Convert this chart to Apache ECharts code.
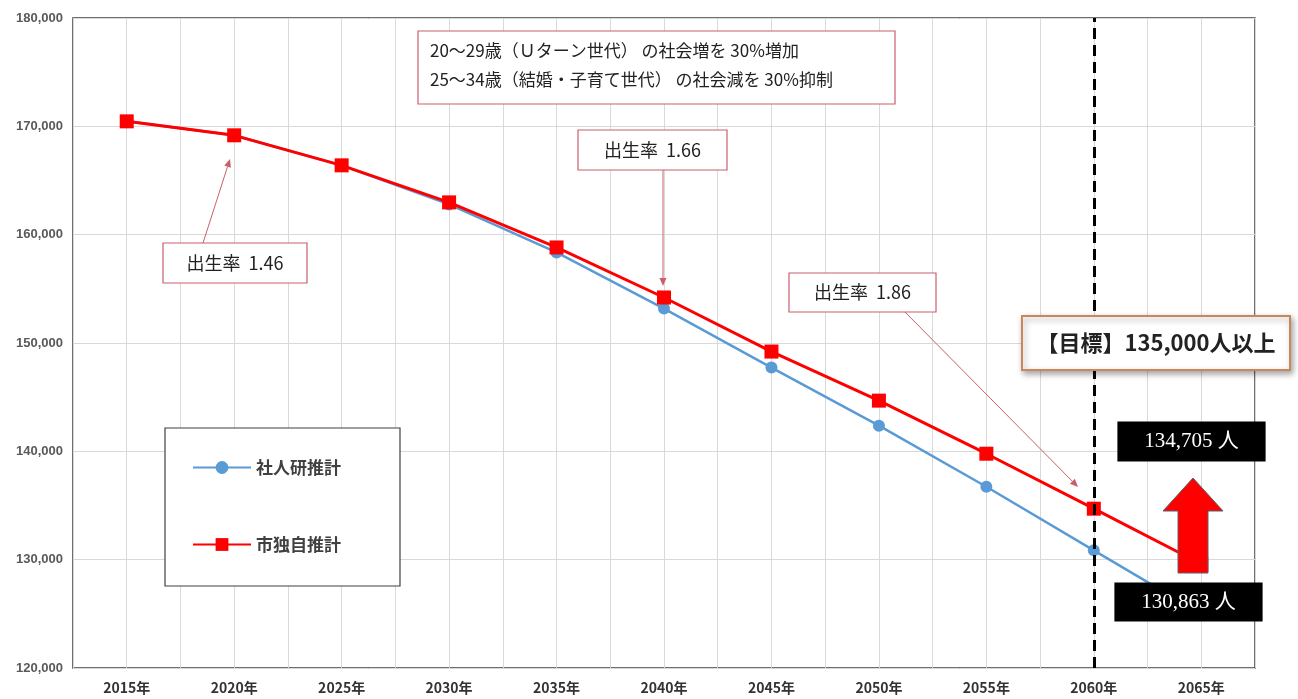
<!DOCTYPE html>
<html>
<head>
<meta charset="utf-8">
<script src="https://cdn.jsdelivr.net/npm/echarts@6/dist/echarts.min.js"></script>
<style>
html,body{margin:0;padding:0;background:#fff;}
#c{width:1298px;height:699px;}
</style>
</head>
<body>
<div id="c"></div>
<script>
const years = ['2015年','2020年','2025年','2030年','2035年','2040年','2045年','2050年','2055年','2060年','2065年'];
const ipssValues = [170460, 169170, 166400, 162790, 158360, 153180, 147730, 142370, 136730, 130863, 125000];
const cityValues = [170460, 169170, 166400, 162980, 158820, 154200, 149210, 144680, 139780, 134705, 129600];
const seriesNames = ['社人研推計', '市独自推計'];
const targetYear = '2060年';
const yMin = 120000, yMax = 180000, yStep = 10000;

const JP = '"Noto Sans CJK JP", "Noto Sans", sans-serif';
const SERIF_NUM = '"Liberation Serif", "Noto Sans CJK JP", serif';

function arrow(x1, y1, x2, y2, color) {
  const ang = Math.atan2(y2 - y1, x2 - x1);
  const L = 8, W = 3.5;
  const bx = x2 - L * Math.cos(ang), by = y2 - L * Math.sin(ang);
  const px = -Math.sin(ang) * W, py = Math.cos(ang) * W;
  return [
    { type: 'line', z: 50, shape: { x1, y1, x2: bx, y2: by }, style: { stroke: color, lineWidth: 1 } },
    { type: 'polygon', z: 50, shape: { points: [[x2, y2], [bx + px, by + py], [bx - px, by - py]] }, style: { fill: color } }
  ];
}
function box(x, y, w, h, stroke, text, font, opts) {
  opts = opts || {};
  return [
    { type: 'rect', z: 50, shape: { x, y, width: w, height: h },
      style: Object.assign({ fill: opts.fill || '#fff', stroke: stroke, lineWidth: opts.lw || 1.2 }, opts.extra || {}) },
    { type: 'text', z: 51, x: x + w / 2, y: y + h / 2,
      style: { text: text, font: font, fill: opts.color || '#222', align: 'center', verticalAlign: 'middle' } }
  ];
}

const chart = echarts.init(document.getElementById('c'));
const annoColor = '#c8606c';

let graphics = [];
// top conditions box
graphics.push({ type: 'rect', z: 50, shape: { x: 418, y: 31, width: 477, height: 73 }, style: { fill: '#fff', stroke: annoColor, lineWidth: 1.2 } });
graphics.push({ type: 'text', z: 51, x: 430, y: 51, style: { text: '20～29歳（Ｕターン世代） の社会増を 30%増加', font: '17px ' + JP, fill: '#222', verticalAlign: 'middle' } });
graphics.push({ type: 'text', z: 51, x: 430, y: 80, style: { text: '25～34歳（結婚・子育て世代） の社会減を 30%抑制', font: '17px ' + JP, fill: '#222', verticalAlign: 'middle' } });
// birth-rate boxes + arrows
graphics = graphics.concat(box(163, 243, 144, 40, annoColor, '出生率  1.46', '18px ' + JP));
graphics = graphics.concat(arrow(203, 243, 230, 159, annoColor));
graphics = graphics.concat(box(578, 130, 149, 40, annoColor, '出生率  1.66', '18px ' + JP));
graphics = graphics.concat(arrow(663, 170, 663, 286, annoColor));
graphics = graphics.concat(box(789, 273, 147, 39, annoColor, '出生率  1.86', '18px ' + JP));
graphics = graphics.concat(arrow(905, 312, 1078, 487, annoColor));
// target box
graphics = graphics.concat(box(1022, 316, 268, 54, '#c8885a', '【目標】135,000人以上', 'bold 22px ' + JP,
  { lw: 2, extra: { shadowBlur: 6, shadowColor: 'rgba(0,0,0,0.35)', shadowOffsetX: 2, shadowOffsetY: 3 } }));
// black value boxes
graphics = graphics.concat(box(1118, 422, 147, 39, '#000', '134,705 人', '21px ' + SERIF_NUM, { fill: '#000', color: '#fff' }));
graphics = graphics.concat(box(1115, 583, 147, 38, '#000', '130,863 人', '21px ' + SERIF_NUM, { fill: '#000', color: '#fff' }));
// red up arrow
graphics.push({ type: 'polygon', z: 52, shape: { points: [[1193, 478], [1223, 511], [1208, 511], [1208, 573], [1178, 573], [1178, 511], [1163, 511]] },
  style: { fill: '#ff0000', stroke: '#5a6070', lineWidth: 1 } });

chart.setOption({
  animation: false,
  backgroundColor: '#fff',
  grid: { left: 73, right: 43, top: 18, bottom: 31, show: true, borderColor: '#404040', borderWidth: 1.5, containLabel: false },
  legend: {
    data: seriesNames,
    orient: 'vertical',
    left: 165, top: 428,
    padding: [31, 59, 33, 27],
    itemWidth: 58, itemHeight: 16, itemGap: 60,
    backgroundColor: '#fff',
    borderColor: '#404040', borderWidth: 1.2,
    textStyle: { fontSize: 17, fontFamily: JP, color: '#404040', fontWeight: 'bold' },
    z: 40
  },
  xAxis: [
    {
      type: 'category', data: years, boundaryGap: true,
      axisLine: { show: false }, axisTick: { show: false },
      axisLabel: { fontSize: 14, fontWeight: 'bold', color: '#333', fontFamily: JP, margin: 13 },
      splitLine: { show: false }
    },
    {
      type: 'value', min: 0, max: years.length * 2, interval: 1, position: 'bottom',
      axisLine: { show: false }, axisTick: { show: false }, axisLabel: { show: false },
      splitLine: { show: true, lineStyle: { color: '#d9d9d9', width: 1 } }
    }
  ],
  yAxis: {
    type: 'value', min: yMin, max: yMax, interval: yStep,
    axisLine: { show: false }, axisTick: { show: false },
    axisLabel: {
      fontSize: 13, fontWeight: 'bold', color: '#595959', fontFamily: '"Liberation Sans", Arial, sans-serif', margin: 10,
      formatter: v => v.toLocaleString('en-US')
    },
    splitLine: { lineStyle: { color: '#d9d9d9', width: 1 } }
  },
  series: [
    {
      name: seriesNames[0], type: 'line', data: ipssValues, xAxisIndex: 0,
      symbol: 'circle', symbolSize: 12,
      itemStyle: { color: '#5b9bd5' }, lineStyle: { color: '#5b9bd5', width: 2.5 }, z: 3
    },
    {
      name: seriesNames[1], type: 'line', data: cityValues, xAxisIndex: 0,
      symbol: 'rect', symbolSize: 14,
      itemStyle: { color: '#ff0000' }, lineStyle: { color: '#ff0000', width: 3 }, z: 4,
      markLine: {
        silent: true, symbol: 'none', label: { show: false },
        lineStyle: { color: '#000', type: [11, 6], width: 3 },
        data: [{ xAxis: targetYear }]
      }
    }
  ],
  graphic: graphics
});
</script>
</body>
</html>
